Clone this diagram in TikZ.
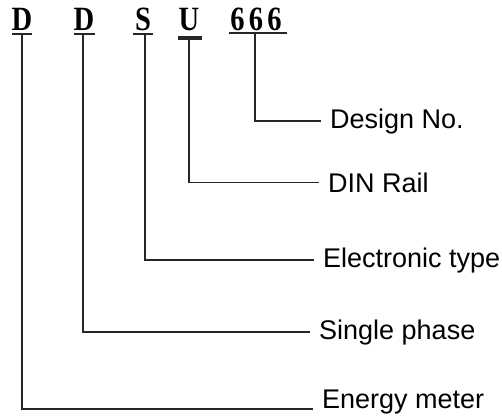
\documentclass[tikz,border=0pt]{standalone}
\usepackage{fontspec}
\setmainfont{Liberation Sans}
\newfontfamily\codefont{Liberation Serif}
\usetikzlibrary{positioning}

\tikzset{
  code/.style={font=\codefont\bfseries\fontsize{34}{36}\selectfont, inner sep=0pt, anchor=base, xscale=0.84, transform shape},
  lab/.style={font=\fontsize{27}{30}\selectfont, inner xsep=9pt, inner ysep=0pt, anchor=base west},
  link/.style={line width=1.3pt, black!85},
  uline/.style={line width=1.3pt, black!85}
}

\begin{document}
\begin{tikzpicture}[x=1pt,y=-1pt]

\useasboundingbox (0,0) rectangle (502,418) ;

% the code letters
\node [code] (d1) at (22,30) {D} ;
\node [code] (d2) at (84,30) {D} ;
\node [code] (s) at (143,30) {S} ;
\node [code] (u) at (189,30) {U} ;
\node [code] (num) at (256,30) {6\hspace{5pt}6\hspace{5pt}6} ;

% underlines
\draw [uline] ([xshift=-10pt,yshift=-4pt]d1.base) -- ++(20,0) ;
\draw [uline] ([xshift=-10pt,yshift=-4pt]d2.base) -- ++(21,0) ;
\draw [uline] ([xshift=-10pt,yshift=-4pt]s.base) -- ++(20,0) ;
\draw [uline,line width=4pt] ([xshift=-11pt,yshift=-8pt]u.base) -- ++(24,0) ;
\draw [uline] ([xshift=-27pt,yshift=-3pt]num.base) -- ++(58,0) ;

\coordinate (t1) at ([yshift=-4pt]d1.base) ;
\coordinate (t2) at ([yshift=-4pt,xshift=-1pt]d2.base) ;
\coordinate (t3) at ([yshift=-4pt,xshift=2pt]s.base) ;
\coordinate (t4) at ([yshift=-10pt]u.base) ;
\coordinate (t5) at ([yshift=-3pt,xshift=-1pt]num.base) ;

% the meanings
\node [lab] (design) at (321,128) {Design No.} ;
\node [lab] (din) at (319,192) {DIN Rail} ;
\node [lab] (elec) at (314,267) {Electronic type} ;
\node [lab] (single) at (310,339) {Single phase} ;
\node [lab] (energy) at (313,408) {Energy meter} ;

\draw [link] (t5) |- (design.west) ;
\draw [link] (t4) |- (din.west) ;
\draw [link] (t3) |- (elec.west) ;
\draw [link] (t2) |- (single.west) ;
\draw [link] (t1) |- ([yshift=-1pt]energy.base west) ;

\end{tikzpicture}
\end{document}
